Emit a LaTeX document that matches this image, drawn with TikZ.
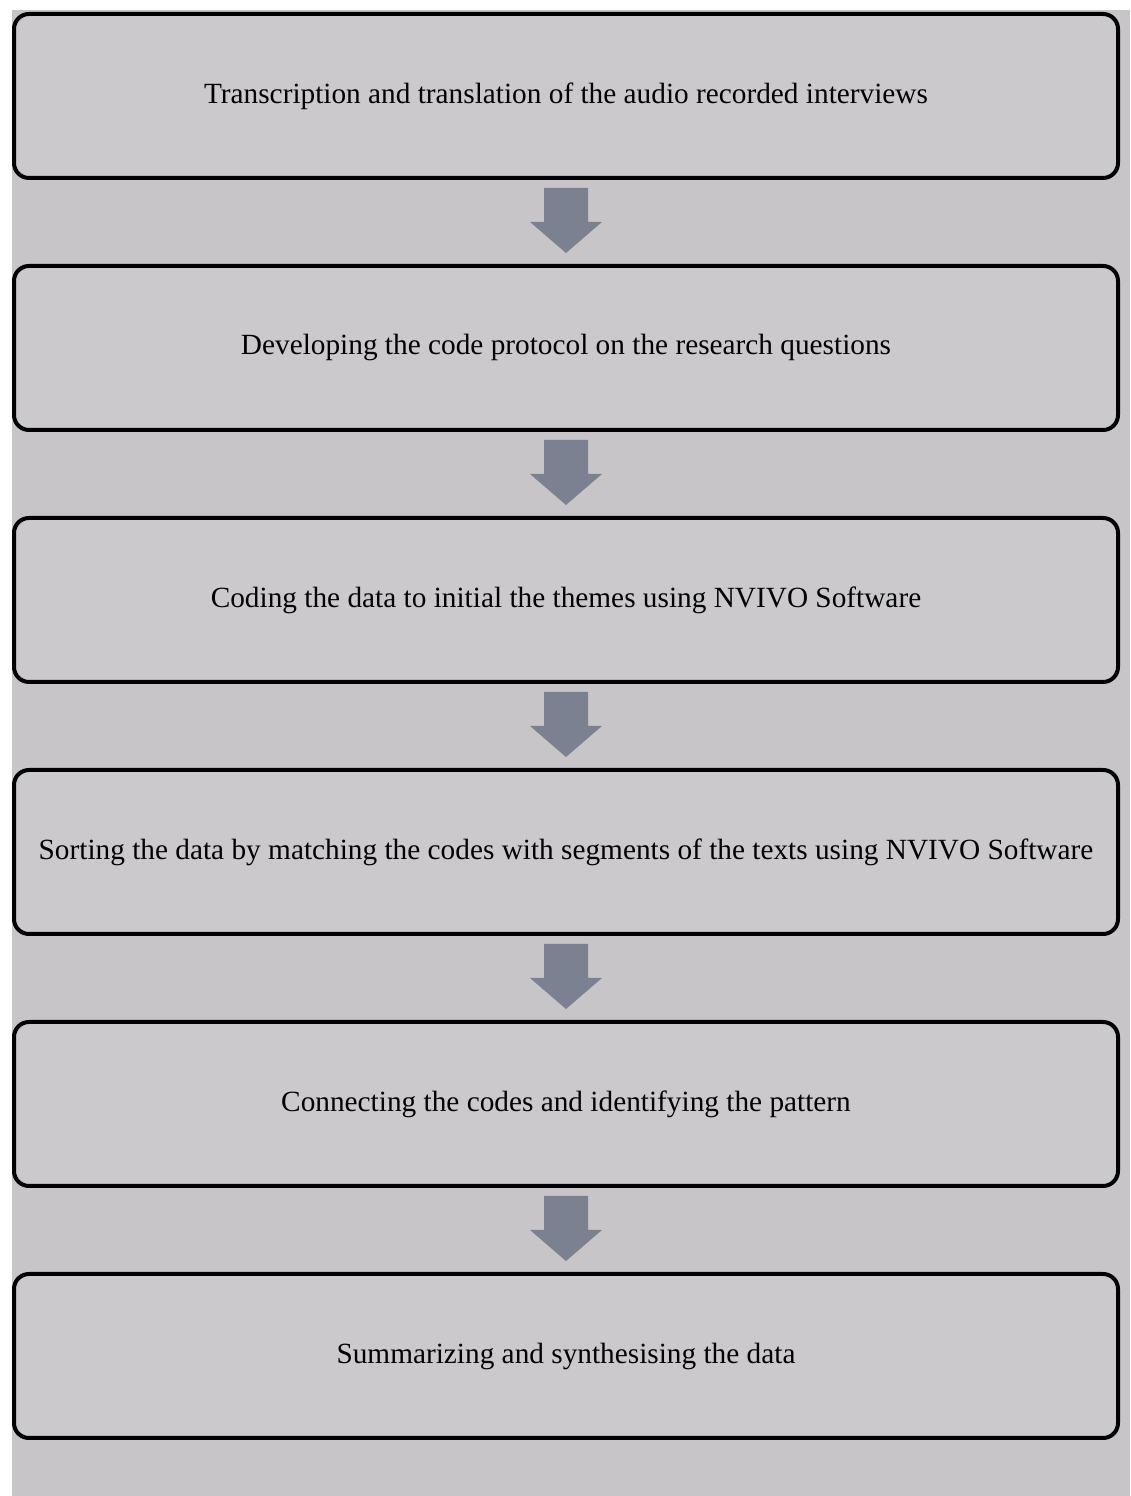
\documentclass[tikz,border=0pt]{standalone}
\usepackage{fontspec}
\setmainfont{Liberation Serif}
\usetikzlibrary{calc}
\definecolor{bggrey}{HTML}{C7C5C8}
\definecolor{boxgrey}{HTML}{CBC9CC}
\definecolor{arrowgrey}{HTML}{7C8191}
\tikzset{
  stepbox/.style={draw=black, line width=4pt, rounded corners=15pt, fill=boxgrey,
    minimum width=1104pt, minimum height=164pt, inner sep=0pt,
    font=\fontsize{29.3}{34}\selectfont, text=black},
  blockarrow/.style={fill=arrowgrey, draw=none}
}
\begin{document}
\begin{tikzpicture}[x=1pt,y=1pt]
\useasboundingbox (0,0) rectangle (1130,1496);
\fill[white] (0,0) rectangle (1130,1496);
\fill[bggrey] (12,0) rectangle (1130,1486);
\node[stepbox] (b1) at (566,1400) {Transcription and translation of the audio recorded interviews};
\node[stepbox] (b2) at (566,1148) {Developing the code protocol on the research questions};
\node[stepbox] (b3) at (566,896) {Coding the data to initial the themes using NVIVO Software};
\node[stepbox] (b4) at (566,644) {Sorting the data by matching the codes with segments of the texts using NVIVO Software};
\node[stepbox] (b5) at (566,392) {Connecting the codes and identifying the pattern};
\node[stepbox] (b6) at (566,140) {Summarizing and synthesising the data};
\foreach \a/\b [count=\i] in {b1/b2,b2/b3,b3/b4,b4/b5,b5/b6} {
  \coordinate (m\i) at ($(\a.south)!0.5!(\b.north)$);
  \fill[blockarrow] ($(m\i)+(-22,34)$) -- ($(m\i)+(22,34)$) -- ($(m\i)+(22,0)$) -- ($(m\i)+(36,0)$)
    -- ($(m\i)+(0,-31)$) -- ($(m\i)+(-36,0)$) -- ($(m\i)+(-22,0)$) -- cycle;
}
\end{tikzpicture}
\end{document}
